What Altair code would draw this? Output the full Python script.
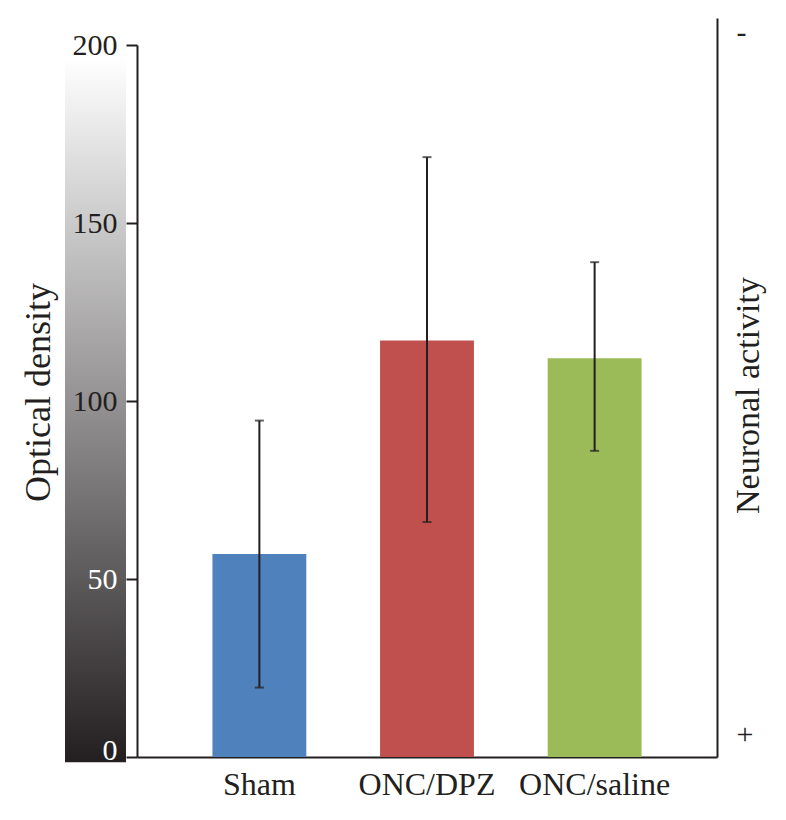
import altair as alt
import pandas as pd

groups = ["Sham", "ONC/DPZ", "ONC/saline"]
means = [57, 117, 112]
err_low = [19.5, 66, 86]
err_high = [94.5, 168.5, 139]
bar_colors = ["#4f81bd", "#c0504d", "#9bbb59"]
y_ticks = [0, 50, 100, 150, 200]
activity_ticks = [0.03, 0.98]
activity_labels = ["+", "-"]

df = pd.DataFrame({"group": groups, "mean": means, "lo": err_low, "hi": err_high})

FONT = "Liberation Serif"
INK = "#231f20"

xenc = alt.X(
    "group:N", sort=groups,
    scale=alt.Scale(paddingInner=0.44, paddingOuter=0.45),
    axis=alt.Axis(title=None, labelAngle=0, ticks=False, domainColor=INK, domainWidth=2,
                  labelFont=FONT, labelFontSize=32, labelColor=INK, labelPadding=12),
)
yscale = alt.Scale(domain=[0, 200], range=[739, 27], nice=False)
yaxis = alt.Axis(
    title="Optical density", values=y_ticks, grid=False, zindex=1,
    domainColor=INK, domainWidth=2, tickColor=INK, tickWidth=2, tickSize=11,
    labelFont=FONT, labelFontSize=30, labelPadding=9,
    labelColor={"condition": {"test": "datum.value <= 50", "value": "white"}, "value": INK},
    labelOffset={"condition": {"test": "datum.value == 0", "value": -7}, "value": 0},
    titleFont=FONT, titleFontSize=36, titleFontWeight="normal", titleColor=INK,
    titleAngle=270, titleX=-99, titleY=374, titleAlign="center", titleBaseline="middle",
)

gradient = {
    "gradient": "linear", "x1": 0, "y1": 1, "x2": 0, "y2": 0,
    "stops": [{"offset": 0, "color": "#231f20"}, {"offset": 1, "color": "#ffffff"}],
}
grad = alt.Chart(pd.DataFrame({"top": [196.5], "bottom": [-1.5]})).mark_rect(fill=gradient).encode(
    x=alt.value(-72), x2=alt.value(-11),
    y=alt.Y("top:Q", scale=yscale, axis=yaxis), y2="bottom:Q",
)

base = alt.Chart(df)
bars = base.mark_bar().encode(
    x=xenc,
    y=alt.Y("mean:Q", scale=yscale, axis=yaxis),
    color=alt.Color("group:N", scale=alt.Scale(domain=groups, range=bar_colors), legend=None),
)
rules = base.mark_rule(color=INK, strokeWidth=2).encode(
    x=xenc, y=alt.Y("lo:Q", scale=yscale, axis=yaxis), y2="hi:Q"
)
cap_lo = base.mark_tick(color=INK, thickness=2, size=9).encode(
    x=xenc, y=alt.Y("lo:Q", scale=yscale, axis=yaxis)
)
cap_hi = base.mark_tick(color=INK, thickness=2, size=9).encode(
    x=xenc, y=alt.Y("hi:Q", scale=yscale, axis=yaxis)
)

left = alt.layer(grad, bars, rules, cap_lo, cap_hi)

label_expr = " : ".join(
    [f"datum.value == {v} ? '{l}'" for v, l in zip(activity_ticks, activity_labels)] + ["''"]
)
right = alt.Chart(pd.DataFrame({"v": activity_ticks})).mark_point(opacity=0).encode(
    y=alt.Y("v:Q", scale=alt.Scale(domain=[0, 1], range=[739, 0], nice=False),
            axis=alt.Axis(orient="right", values=activity_ticks, labelExpr=label_expr,
                          ticks=False, grid=False, domainColor=INK, domainWidth=2,
                          labelFont=FONT, labelFontSize=30, labelColor=INK, labelPadding=19,
                          title="Neuronal activity", titleFont=FONT, titleFontSize=34,
                          titleFontWeight="normal", titleColor=INK,
                          titleAngle=270, titleX=31, titleY=377, titleAlign="center",
                          titleBaseline="middle"))
)

chart = alt.layer(left, right).resolve_scale(y="independent").properties(
    width=580, height=739, autosize="none",
    padding={"left": 129, "top": 10, "right": 60, "bottom": 50},
).configure(font=FONT, view=alt.ViewConfig(stroke="transparent", strokeWidth=0))

chart.save("out.html", embed_options={"renderer": "svg", "actions": False})
